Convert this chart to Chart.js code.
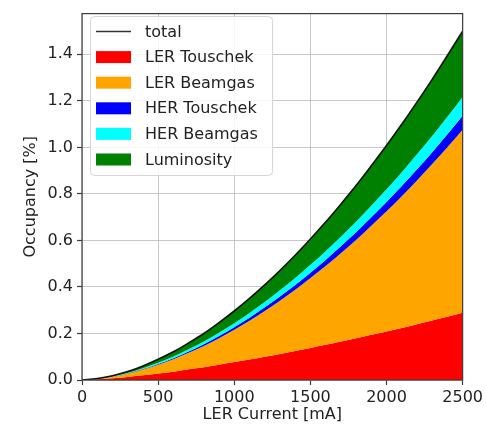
<!DOCTYPE html>
<html>
<head>
<meta charset="utf-8">
<script src="https://cdn.jsdelivr.net/npm/chart.js@4.4.1/dist/chart.umd.min.js"></script>
<style>
  html, body { margin: 0; padding: 0; background: #ffffff; }
  #wrap { width: 486px; height: 426px; }
</style>
</head>
<body>
<div id="wrap"><canvas id="occ" width="486" height="426"></canvas></div>
<script>
// LER current scan [mA]
const current = [0, 100, 200, 300, 400, 500, 600, 700, 800, 900, 1000, 1100, 1200,
  1300, 1400, 1500, 1600, 1700, 1800, 1900, 2000, 2100, 2200, 2300, 2400, 2500];

// Occupancy contributions [%] per background source
const lerTouschek = [0, 0.003, 0.007, 0.013, 0.020, 0.028, 0.036, 0.046, 0.055, 0.066, 0.077,
  0.088, 0.100, 0.112, 0.125, 0.138, 0.151, 0.165, 0.179, 0.194, 0.209, 0.224, 0.240, 0.256, 0.272, 0.289];
const lerBeamgas = [0, 0.002, 0.007, 0.014, 0.025, 0.038, 0.053, 0.071, 0.091, 0.114, 0.139,
  0.167, 0.197, 0.229, 0.263, 0.300, 0.339, 0.380, 0.423, 0.469, 0.516, 0.566, 0.618, 0.672, 0.729, 0.787];
const herTouschek = [0, 0.0002, 0.0006, 0.0012, 0.0020, 0.0031, 0.0043, 0.0057, 0.0073, 0.0091, 0.0110,
  0.0131, 0.0154, 0.0179, 0.0205, 0.0233, 0.0263, 0.0294, 0.0327, 0.0361, 0.0397, 0.0435, 0.0474, 0.0514, 0.0556, 0.0600];
const herBeamgas = [0, 0.0004, 0.0011, 0.0022, 0.0036, 0.0053, 0.0072, 0.0093, 0.0117, 0.0142, 0.0170,
  0.0200, 0.0231, 0.0265, 0.0300, 0.0337, 0.0376, 0.0417, 0.0459, 0.0503, 0.0549, 0.0596, 0.0645, 0.0695, 0.0747, 0.0800];
const luminosity = [0, 0.0008, 0.0027, 0.0057, 0.0098, 0.0147, 0.0206, 0.0273, 0.0349, 0.0433, 0.0526,
  0.0627, 0.0736, 0.0853, 0.0977, 0.1110, 0.1249, 0.1397, 0.1552, 0.1714, 0.1884, 0.2060, 0.2245, 0.2436, 0.2635, 0.2840];

// Axis ticks
const xTicks = [0, 500, 1000, 1500, 2000, 2500];
const yTicks = [0.0, 0.2, 0.4, 0.6, 0.8, 1.0, 1.2, 1.4];

const components = [
  { label: 'LER Touschek', values: lerTouschek, color: '#ff0000' },
  { label: 'LER Beamgas',  values: lerBeamgas,  color: '#ffa500' },
  { label: 'HER Touschek', values: herTouschek, color: '#0000ff' },
  { label: 'HER Beamgas',  values: herBeamgas,  color: '#00ffff' },
  { label: 'Luminosity',   values: luminosity,  color: '#008000' }
];

// Running sums give the upper edge of each stacked band
const running = current.map(() => 0);
const datasets = components.map((c, k) => {
  const pts = current.map((x, i) => {
    running[i] += c.values[i];
    return { x: x, y: running[i] };
  });
  return {
    label: c.label,
    data: pts,
    backgroundColor: c.color,
    borderColor: c.color,
    borderWidth: 0,
    pointRadius: 0,
    fill: k === 0 ? 'origin' : '-1',
    cubicInterpolationMode: 'monotone',
    order: 5 - k
  };
});
datasets.push({
  label: 'total',
  data: current.map((x, i) => ({ x: x, y: running[i] })),
  borderColor: '#111111',
  borderWidth: 1.6,
  pointRadius: 0,
  fill: false,
  cubicInterpolationMode: 'monotone',
  order: -1
});

const FONT = "'DejaVu Sans', sans-serif";
const TXT = '#222222';

// Frame, axis titles and legend box drawn over the plot
const decorations = {
  id: 'decorations',
  afterDraw(chart) {
    const ctx = chart.ctx;
    const a = chart.chartArea;
    ctx.save();
    // axes frame
    ctx.strokeStyle = '#3c3c3c';
    ctx.lineWidth = 1.2;
    ctx.strokeRect(a.left, a.top, a.right - a.left, a.bottom - a.top);

    // axis titles
    ctx.fillStyle = TXT;
    ctx.font = '16px ' + FONT;
    ctx.textAlign = 'center';
    ctx.textBaseline = 'middle';
    ctx.fillText('LER Current [mA]', (a.left + a.right) / 2, 415);
    ctx.save();
    ctx.translate(31, (a.top + a.bottom) / 2);
    ctx.rotate(-Math.PI / 2);
    ctx.fillText('Occupancy [%]', 0, 0);
    ctx.restore();

    // legend
    const bx = 90.5, by = 16.5, bw = 182, bh = 159, r = 4;
    ctx.beginPath();
    ctx.moveTo(bx + r, by);
    ctx.arcTo(bx + bw, by, bx + bw, by + bh, r);
    ctx.arcTo(bx + bw, by + bh, bx, by + bh, r);
    ctx.arcTo(bx, by + bh, bx, by, r);
    ctx.arcTo(bx, by, bx + bw, by, r);
    ctx.closePath();
    ctx.fillStyle = 'rgba(255,255,255,0.85)';
    ctx.fill();
    ctx.strokeStyle = '#d6d6d6';
    ctx.lineWidth = 1;
    ctx.stroke();

    const entries = [{ label: 'total', line: '#333333' }].concat(
      components.map(c => ({ label: c.label, color: c.color })));
    ctx.textAlign = 'left';
    ctx.textBaseline = 'middle';
    ctx.font = '16px ' + FONT;
    entries.forEach((e, i) => {
      const cy = 31.5 + i * 25.6;
      if (e.line) {
        ctx.strokeStyle = e.line;
        ctx.lineWidth = 1.6;
        ctx.beginPath();
        ctx.moveTo(96, cy);
        ctx.lineTo(131, cy);
        ctx.stroke();
      } else {
        ctx.fillStyle = e.color;
        ctx.fillRect(96, cy - 6, 35, 12);
      }
      ctx.fillStyle = TXT;
      ctx.fillText(e.label, 145, cy + 1);
    });
    ctx.restore();
  }
};

new Chart(document.getElementById('occ'), {
  type: 'line',
  data: { datasets: datasets },
  options: {
    responsive: false,
    animation: false,
    devicePixelRatio: 1,
    layout: { padding: { left: 0, right: 23, top: 8, bottom: 0 } },
    plugins: { legend: { display: false }, tooltip: { enabled: false } },
    elements: { line: { tension: 0 } },
    scales: {
      x: {
        type: 'linear',
        min: 0,
        max: 2500,
        z: 1,
        afterFit: s => { s.height = 46; },
        afterBuildTicks: s => { s.ticks = xTicks.map(v => ({ value: v })); },
        grid: { color: 'rgba(176,176,176,0.7)', lineWidth: 1, tickLength: 5, tickColor: '#3c3c3c', tickWidth: 1.2 },
        border: { display: false },
        ticks: { color: TXT, font: { family: FONT, size: 16 }, padding: 3, maxRotation: 0, callback: v => String(v) }
      },
      y: {
        type: 'linear',
        min: 0,
        max: 1.575,
        z: 1,
        afterFit: s => { s.width = 82; },
        afterBuildTicks: s => { s.ticks = yTicks.map(v => ({ value: v })); },
        grid: { color: 'rgba(176,176,176,0.7)', lineWidth: 1, tickLength: 5, tickColor: '#3c3c3c', tickWidth: 1.2 },
        border: { display: false },
        ticks: { color: TXT, font: { family: FONT, size: 16 }, padding: 4, callback: v => Number(v).toFixed(1) }
      }
    }
  },
  plugins: [decorations]
});
</script>
</body>
</html>
